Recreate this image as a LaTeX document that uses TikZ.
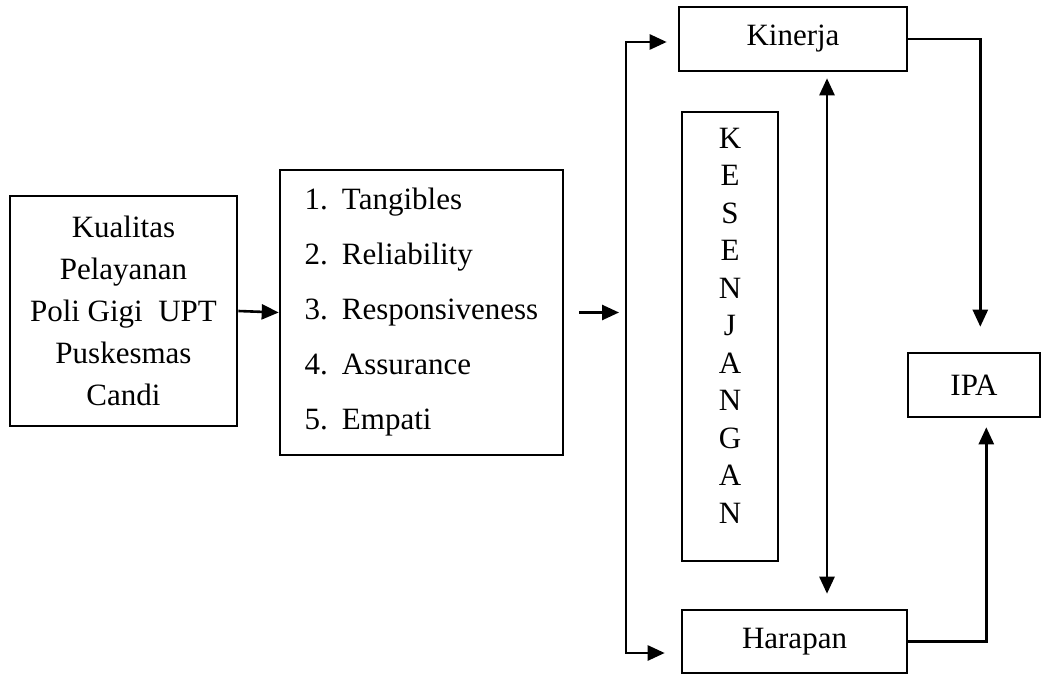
\documentclass[tikz,border=0pt]{standalone}
\usepackage{fontspec}
\setmainfont{Liberation Serif}
\usetikzlibrary{arrows.meta}

\tikzset{
  box/.style={draw, line width=2.6pt, inner sep=0pt, align=center,
    font=\fontsize{31}{42}\selectfont},
  conn/.style={line width=2.6pt},
  arr/.style={conn, -{Triangle[length=17pt,width=15pt]}},
  dblarr/.style={conn, {Triangle[length=17pt,width=15pt]}-{Triangle[length=17pt,width=15pt]}}
}

\begin{document}
\begin{tikzpicture}[x=1pt,y=-1pt]
\useasboundingbox (0,0) rectangle (1043,676);

% boxes
\node[box, minimum width=227pt, minimum height=230pt] (kualitas) at (123.5,311)
  {Kualitas\\Pelayanan\\Poli Gigi\ \ UPT\\Puskesmas\\Candi};
\node[box, minimum width=283pt, minimum height=285pt, align=left,
  font=\fontsize{31}{55}\selectfont] (list) at (421.5,312.5)
  {1.\hspace{14pt}Tangibles\\2.\hspace{14pt}Reliability\\3.\hspace{14pt}Responsiveness\\4.\hspace{14pt}Assurance\\5.\hspace{14pt}Empati};
\node[box, minimum width=228pt, minimum height=64pt] (kinerja) at (793,39) {Kinerja};
\node[box, minimum width=225pt, minimum height=63pt] (harapan) at (794.5,641.5) {Harapan};
\node[box, minimum width=96pt, minimum height=449pt, text depth=22pt,
  font=\fontsize{31}{37.5}\selectfont] (gap) at (730,336.5)
  {K\\E\\S\\E\\N\\J\\A\\N\\G\\A\\N};
\node[box, minimum width=132pt, minimum height=64pt] (ipa) at (974,385) {IPA};

% bus
\coordinate (bustop) at (626,42);
\coordinate (busbot) at (626,653);
\draw[dblarr, shorten <=16pt, shorten >=11pt] (busbot -| harapan.west) -- (busbot) -- (bustop) -- (bustop -| kinerja.west);

% arrows
\draw[arr] (kualitas.east) -- (list.west);
\draw[arr] ([xshift=15pt]list.east) -- ([xshift=-7pt]bustop |- list.east);
\draw[dblarr, shorten <=6pt, shorten >=15pt] ([xshift=34pt]kinerja.south) -- ([xshift=34pt]kinerja.south |- harapan.north);
\coordinate (kcorner) at ([xshift=72pt]kinerja.east);
\draw[arr, shorten >=25pt] (kinerja.east) -- (kcorner) -- (kcorner |- ipa.north);
\coordinate (hcorner) at ([xshift=78pt]harapan.east);
\draw[arr, shorten >=9pt] (harapan.east) -- (hcorner) -- (hcorner |- ipa.south);
\end{tikzpicture}
\end{document}
